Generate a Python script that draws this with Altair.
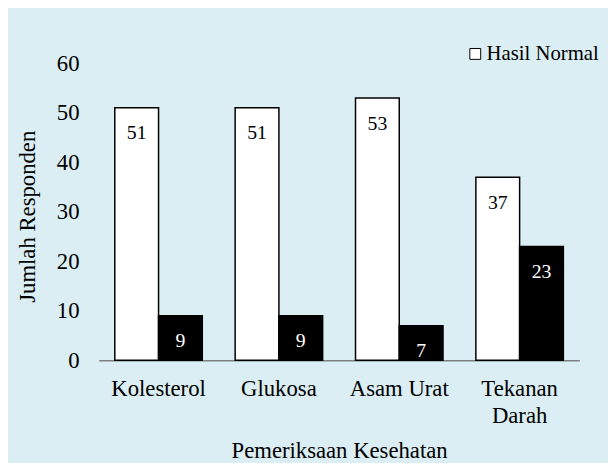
import altair as alt
import pandas as pd

categories = ["Kolesterol", "Glukosa", "Asam Urat", "Tekanan Darah"]
series = ["Hasil Normal", "Hasil Tidak Normal"]
normal = [51, 51, 53, 37]
abnormal = [9, 9, 7, 23]

rows = []
for c, n, a in zip(categories, normal, abnormal):
    rows.append({"Pemeriksaan": c, "Status": series[0], "Jumlah": n})
    rows.append({"Pemeriksaan": c, "Status": series[1], "Jumlah": a})
df = pd.DataFrame(rows)

FONT = "Liberation Serif"

x_enc = alt.X(
    "Pemeriksaan:N",
    sort=categories,
    scale=alt.Scale(paddingInner=0.273, paddingOuter=0.133),
    axis=alt.Axis(
        title="Pemeriksaan Kesehatan",
        labelAngle=0,
        labelFont=FONT,
        labelFontSize=23,
        labelBaseline="alphabetic",
        labelPadding=36,
        labelLineHeight=27,
        labelLimit=0,
        labelColor="black",
        labelExpr="datum.label == 'Tekanan Darah' ? ['Tekanan', 'Darah'] : datum.label",
        ticks=False,
        tickSize=0,
        domainColor="#808080",
        domainWidth=1.5,
        titleFont=FONT,
        titleFontSize=23,
        titleFontWeight="normal",
        titleBaseline="alphabetic",
        titleY=98,
        titleColor="black",
    ),
)
xoff_enc = alt.XOffset("Status:N", sort=series, scale=alt.Scale(paddingInner=0, paddingOuter=0))
y_enc = alt.Y(
    "Jumlah:Q",
    scale=alt.Scale(domain=[0, 60], nice=False),
    axis=alt.Axis(
        title="Jumlah Responden",
        values=[0, 10, 20, 30, 40, 50, 60],
        labelFont=FONT,
        labelFontSize=23,
        labelPadding=20,
        labelColor="black",
        domain=False,
        ticks=False,
        tickSize=0,
        grid=False,
        titleFont=FONT,
        titleFontSize=23,
        titleFontWeight="normal",
        titleAngle=270,
        titleAlign="center",
        titleBaseline="alphabetic",
        titleX=-65,
        titleY=155,
        titleColor="black",
    ),
)

bars = alt.Chart(df).mark_bar(stroke="black", strokeWidth=1.5).encode(
    x=x_enc,
    xOffset=xoff_enc,
    y=y_enc,
    fill=alt.Fill(
        "Status:N",
        scale=alt.Scale(domain=series, range=["white", "black"]),
        legend=alt.Legend(
            values=["Hasil Normal"],
            title=None,
            orient="none",
            legendX=371,
            legendY=-20,
            symbolType="square",
            symbolSize=121,
            symbolStrokeColor="black",
            symbolStrokeWidth=1,
            labelFont=FONT,
            labelFontSize=21,
            labelOffset=1,
            labelColor="black",
            padding=0,
        ),
    ),
)

labels = alt.Chart(df).mark_text(font=FONT, fontSize=20, baseline="middle", dy=26).encode(
    x=alt.X("Pemeriksaan:N", sort=categories),
    xOffset=alt.XOffset("Status:N", sort=series),
    y=alt.Y("Jumlah:Q"),
    text="Jumlah:Q",
    color=alt.condition(alt.datum.Status == "Hasil Normal", alt.value("black"), alt.value("white")),
)

chart = (
    alt.layer(bars, labels)
    .properties(
        width=487,
        height=301,
        background="#DAEEF3",
        autosize=alt.AutoSizeParams(type="none"),
        padding={"left": 92, "top": 53, "right": 29, "bottom": 101},
    )
    .configure(font=FONT)
    .configure_view(stroke=None)
)

chart.save("out.html", embed_options={"renderer": "svg", "actions": False})
